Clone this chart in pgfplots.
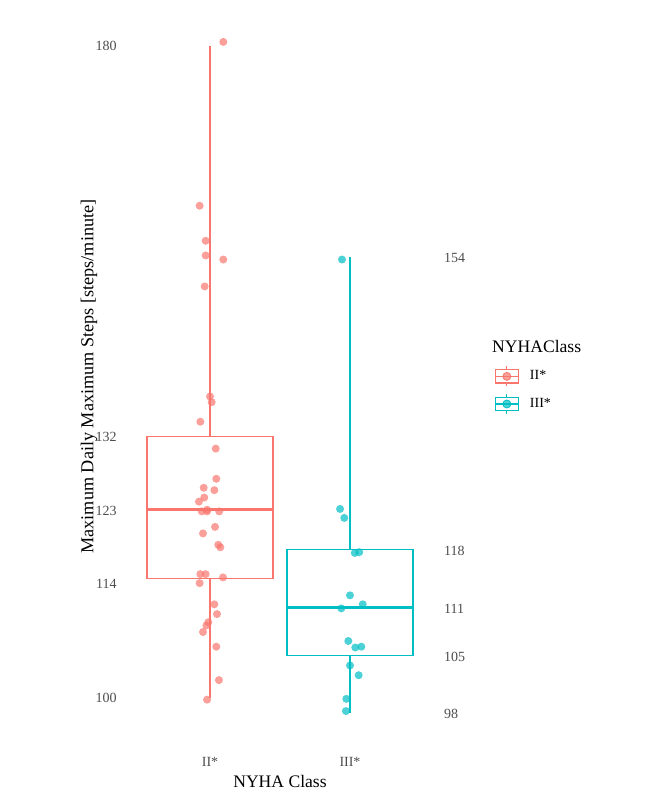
\documentclass[border=0pt]{standalone}
\usepackage{fontspec}
\setmainfont{Liberation Serif}
\usepackage{pgfplots}
\pgfplotsset{compat=1.18}
\usepgfplotslibrary{statistics}
\definecolor{cII}{HTML}{F8766D}
\definecolor{cIII}{HTML}{00BFC4}
\definecolor{tickgray}{HTML}{4D4D4D}
\begin{document}
\begin{tikzpicture}
\useasboundingbox (-63pt,-27.25pt) rectangle (270pt,372.25pt);
\begin{axis}[
  at={(0,0)}, anchor=south west,
  scale only axis, width=154pt, height=368pt,
  xmin=0.4, xmax=2.6, ymin=94.3, ymax=184.6,
  axis line style={draw=none},
  major tick length=0pt,
  xtick={1,2}, xticklabels={II*,III*},
  ytick={100,114,123,132,180},
  tick label style={font=\fontsize{7}{8}\selectfont, text=tickgray},
  xticklabel style={anchor=center, inner sep=0pt, yshift=-8.5pt},
  yticklabel style={anchor=east, inner sep=0pt, xshift=-4.5pt},
  /pgf/number format/assume math mode=true,
  xlabel={NYHA Class}, ylabel={Maximum Daily Maximum Steps [steps/minute]},
  xlabel style={font=\fontsize{8.8}{10}\selectfont, at={(axis description cs:0.5,-0.0505)}, anchor=center},
  ylabel style={font=\fontsize{9.1}{10}\selectfont, at={(axis description cs:-0.12,0.5)}, anchor=center},
  clip=false,
  boxplot/draw direction=y,
  legend cell align=left,
  legend style={at={(1.196,0.4814)}, anchor=west, draw=none, fill=none,
    inner sep=0pt, row sep=3.2pt, column sep=5.5pt,
    font=\fontsize{7}{8}\selectfont, nodes={inner sep=0pt}},
]
\addplot[draw=cII, line width=0.6pt, forget plot,
  boxplot prepared={draw position=1, box extend=0.9, whisker extend=0,
    median=123.1, upper quartile=132.1, lower quartile=114.7,
    upper whisker=180, lower whisker=100,
    every box/.style={draw=cII, line width=0.6pt},
    every whisker/.style={draw=cII, line width=0.6pt},
    every median/.style={draw=cII, line width=1.6pt}}] coordinates {};
\addplot[draw=cIII, line width=0.6pt, forget plot,
  boxplot prepared={draw position=2, box extend=0.9, whisker extend=0,
    median=111.1, upper quartile=118.2, lower quartile=105.2,
    upper whisker=154.1, lower whisker=98.2,
    every box/.style={draw=cIII, line width=0.6pt},
    every whisker/.style={draw=cIII, line width=0.6pt},
    every median/.style={draw=cIII, line width=1.6pt}}] coordinates {};

\addplot[cII, only marks, mark=*, mark size=2pt,
  mark options={draw opacity=0, fill=cII, fill opacity=0.7},
  legend image code/.code={
    \draw[cII, line width=0.6pt] (0pt,-3.35pt) rectangle (11.5pt,3.35pt);
    \draw[cII, line width=0.6pt] (0pt,0pt) -- (11.5pt,0pt);
    \draw[cII, line width=0.6pt] (5.75pt,3.35pt) -- (5.75pt,5pt) (5.75pt,-3.35pt) -- (5.75pt,-5pt);
    \fill[cII, fill opacity=0.7] (5.75pt,0pt) circle (2pt);
  }] coordinates {
(1.095,180.5) (0.926,160.4) (0.969,156.1) (0.969,154.3) (1.095,153.8)
(0.962,150.5) (1.000,137.0) (1.012,136.3) (0.931,133.9) (1.041,130.6)
(1.045,126.9) (0.955,125.8) (1.031,125.5) (0.959,124.6) (0.921,124.1)
(0.979,123.1) (0.941,122.9) (0.979,122.9) (1.066,122.9) (1.036,121.0)
(0.950,120.2) (1.059,118.8) (1.074,118.5) (0.931,115.2) (0.969,115.2)
(1.093,114.8) (0.926,114.1) (1.031,111.5) (1.050,110.3) (0.988,109.3)
(0.974,108.9) (0.950,108.1) (1.045,106.3) (1.064,102.2) (0.979,99.8)
};
\addlegendentry{II*}
\addplot[cIII, only marks, mark=*, mark size=2pt,
  mark options={draw opacity=0, fill=cIII, fill opacity=0.7},
  legend image code/.code={
    \draw[cIII, line width=0.6pt] (0pt,-3.35pt) rectangle (11.5pt,3.35pt);
    \draw[cIII, line width=0.6pt] (0pt,0pt) -- (11.5pt,0pt);
    \draw[cIII, line width=0.6pt] (5.75pt,3.35pt) -- (5.75pt,5pt) (5.75pt,-3.35pt) -- (5.75pt,-5pt);
    \fill[cIII, fill opacity=0.7] (5.75pt,0pt) circle (2pt);
  }] coordinates {
(1.943,153.8) (1.929,123.2) (1.959,122.1) (2.034,117.8) (2.066,117.9)
(2.000,112.6) (1.938,111.0) (2.091,111.5) (1.988,107.0) (2.038,106.2)
(2.081,106.3) (2.000,104.0) (2.062,102.8) (1.974,99.9) (1.971,98.4)
};
\addlegendentry{III*}

\node[anchor=west, inner sep=0pt, font=\fontsize{7}{8}\selectfont, text=tickgray] at (axis cs:2.67,154) {154};
\node[anchor=west, inner sep=0pt, font=\fontsize{7}{8}\selectfont, text=tickgray] at (axis cs:2.67,118) {118};
\node[anchor=west, inner sep=0pt, font=\fontsize{7}{8}\selectfont, text=tickgray] at (axis cs:2.67,111) {111};
\node[anchor=west, inner sep=0pt, font=\fontsize{7}{8}\selectfont, text=tickgray] at (axis cs:2.67,105) {105};
\node[anchor=west, inner sep=0pt, font=\fontsize{7}{8}\selectfont, text=tickgray] at (axis cs:2.67,98) {98};
\end{axis}
\node[anchor=west, inner sep=0pt, font=\fontsize{8.8}{10}\selectfont] at (182.9pt,198.9pt) {NYHAClass};
\end{tikzpicture}
\end{document}
